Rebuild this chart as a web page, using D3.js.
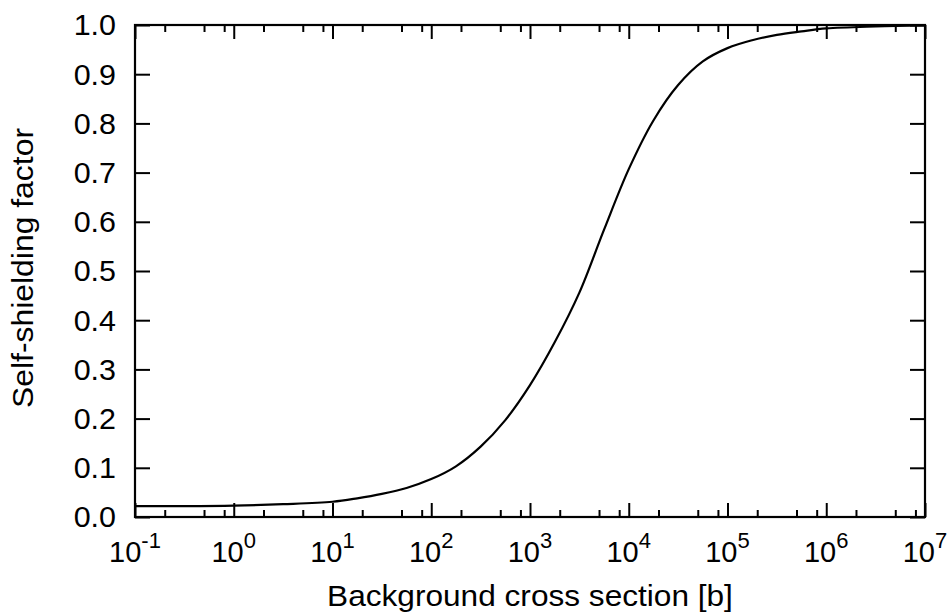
<!DOCTYPE html>
<html>
<head>
<meta charset="utf-8">
<script src="https://cdn.jsdelivr.net/npm/d3@7"></script>
<style>
  html, body { margin: 0; padding: 0; background: #fff; }
  svg { display: block; }
  text { font-family: "Liberation Sans", Arial, sans-serif; fill: #000; }
</style>
</head>
<body>
<svg id="chart" width="952" height="614"></svg>
<script>
// Self-shielding factor vs background cross section (barns)
const sigma0 = [1e-1, 3.162e-1, 1e0, 3.162e0, 1e1, 1.778e1, 3.162e1, 5.623e1, 1e2, 1.778e2,
  3.162e2, 5.623e2, 1e3, 1.778e3, 3.162e3, 5.623e3, 1e4, 1.778e4, 3.162e4, 5.623e4,
  1e5, 1.778e5, 3.162e5, 5.623e5, 1e6, 3.162e6, 1e7];
const factor = [0.022, 0.022, 0.023, 0.026, 0.031, 0.038, 0.047, 0.059, 0.077, 0.103,
  0.143, 0.197, 0.268, 0.355, 0.456, 0.584, 0.707, 0.806, 0.878, 0.926,
  0.953, 0.969, 0.980, 0.987, 0.993, 0.997, 0.999];

const xMajorExp = [-1, 0, 1, 2, 3, 4, 5, 6, 7];
const xMinorMult = [2, 5, 8];
const yTicks = [0.0, 0.1, 0.2, 0.3, 0.4, 0.5, 0.6, 0.7, 0.8, 0.9, 1.0];

const xTitle = "Background cross section [b]";
const yTitle = "Self-shielding factor";

const margin = { left: 135, top: 25, right: 27, bottom: 97 };
const W = 952, H = 614;
const iw = W - margin.left - margin.right;
const ih = H - margin.top - margin.bottom;

const svg = d3.select("#chart");
const g = svg.append("g").attr("transform", `translate(${margin.left},${margin.top})`);

const x = d3.scaleLog().domain([1e-1, 1e7]).range([0, iw]);
const y = d3.scaleLinear().domain([0, 1]).range([ih, 0]);

const majors = xMajorExp.map(e => Math.pow(10, e));
const minors = [];
xMajorExp.slice(0, -1).forEach(e => xMinorMult.forEach(m => minors.push(m * Math.pow(10, e))));

function styleAxis(sel) {
  sel.select(".domain").remove();
  sel.selectAll(".tick line").attr("stroke", "#000").attr("stroke-width", 2);
  sel.selectAll(".tick text").remove();
}

// inward ticks on all four sides
g.append("g").attr("transform", `translate(0,${ih})`)
  .call(d3.axisBottom(x).tickValues(majors).tickSize(-14).tickFormat("")).call(styleAxis);
g.append("g").attr("transform", `translate(0,${ih})`)
  .call(d3.axisBottom(x).tickValues(minors).tickSize(-7).tickFormat("")).call(styleAxis);
g.append("g")
  .call(d3.axisTop(x).tickValues(majors).tickSize(-14).tickFormat("")).call(styleAxis);
g.append("g")
  .call(d3.axisTop(x).tickValues(minors).tickSize(-7).tickFormat("")).call(styleAxis);
g.append("g")
  .call(d3.axisLeft(y).tickValues(yTicks).tickSize(-15).tickFormat("")).call(styleAxis);
g.append("g").attr("transform", `translate(${iw},0)`)
  .call(d3.axisRight(y).tickValues(yTicks).tickSize(-15).tickFormat("")).call(styleAxis);

// frame
g.append("rect")
  .attr("x", 0).attr("y", 0).attr("width", iw).attr("height", ih)
  .attr("fill", "none").attr("stroke", "#000").attr("stroke-width", 2.2);

// y tick labels
g.selectAll(".ylab").data(yTicks).join("text")
  .attr("class", "ylab")
  .attr("transform", d => `translate(-19,${y(d)}) scale(1.05,1)`)
  .attr("dy", "0.36em")
  .attr("text-anchor", "end")
  .style("font-size", "29px")
  .text(d => d.toFixed(1));

// x tick labels: 10 with superscript exponent
const xl = g.selectAll(".xlab").data(xMajorExp).join("text")
  .attr("class", "xlab")
  .attr("x", d => x(Math.pow(10, d)))
  .attr("y", ih + 45)
  .attr("text-anchor", "middle")
  .style("font-size", "29px");
xl.append("tspan").text("10");
xl.append("tspan").attr("dy", -14).style("font-size", "22px").text(d => String(d));

// curve
const line = d3.line()
  .x((d, i) => x(sigma0[i]))
  .y(d => y(d))
  .curve(d3.curveCatmullRom.alpha(0.5));
g.append("path")
  .datum(factor)
  .attr("fill", "none")
  .attr("stroke", "#000")
  .attr("stroke-width", 2.2)
  .attr("d", line);

// axis titles
svg.append("text")
  .attr("transform", `translate(${margin.left + iw / 2},606) scale(1.09,1)`)
  .attr("text-anchor", "middle")
  .style("font-size", "29px")
  .text(xTitle);

svg.append("text")
  .attr("transform", `translate(33,268) rotate(-90) scale(1.1,1)`)
  .attr("text-anchor", "middle")
  .style("font-size", "29px")
  .text(yTitle);
</script>
</body>
</html>
